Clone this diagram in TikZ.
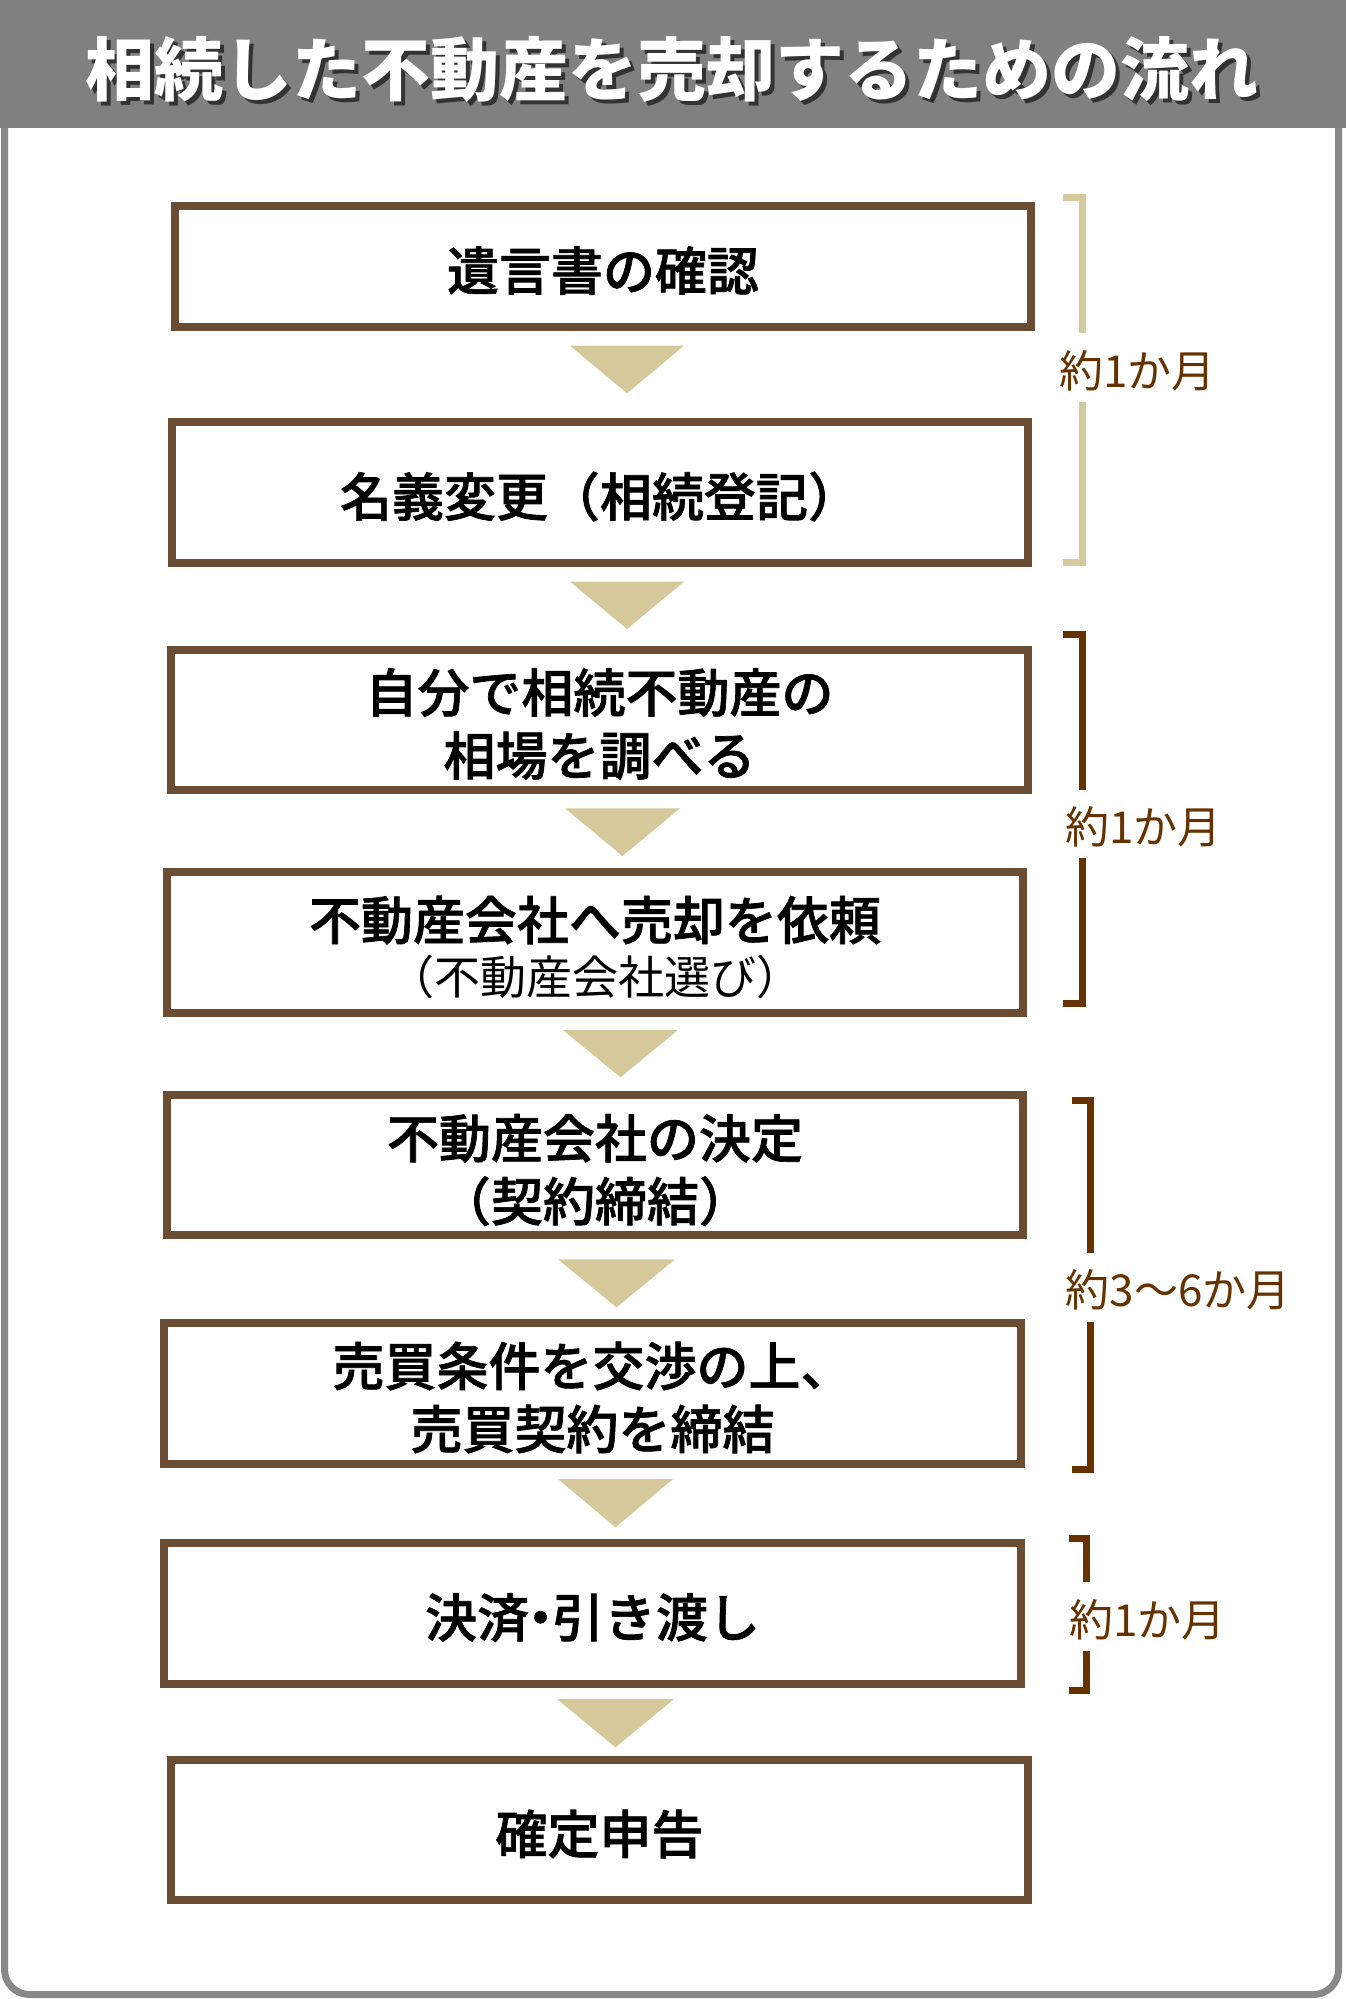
\documentclass[tikz,border=0pt]{standalone}
\usepackage{fontspec}
\newfontfamily\jp{Noto Sans CJK JP}
\newfontfamily\jpmed[FakeBold=1.3]{Noto Sans CJK JP Medium}
\definecolor{boxbrown}{RGB}{107,77,51}
\definecolor{tricol}{RGB}{213,201,155}
\definecolor{brk}{RGB}{102,51,0}
\definecolor{brklight}{RGB}{214,203,156}
\definecolor{framegray}{RGB}{136,136,136}
\definecolor{titlegray}{RGB}{128,128,128}
\begin{document}
\begin{tikzpicture}[x=1pt,y=-1pt,
  stepbox/.style={draw=boxbrown, line width=8pt, fill=white, inner sep=0pt, minimum width=857pt},
  steptext/.style={inner sep=0pt, align=center, text=black, font=\jpmed\fontsize{52}{63}\selectfont},
  arrowtri/.style={fill=tricol, draw=none},
  bracketline/.style={line width=7pt},
  periodlabel/.style={inner sep=0pt, text=brk, font=\jp\fontsize{44}{44}\selectfont},
  titletext/.style={inner sep=0pt, font=\jp\bfseries\fontsize{69}{69}\selectfont}]
\useasboundingbox (0,0) rectangle (1346,1999);
\fill[white] (0,0) rectangle (1346,1999);
% outer frame
\draw[framegray, line width=7pt, rounded corners=25pt] (4.5,60) rectangle (1338.5,1994.5);
% title bar
\fill[titlegray] (0,0) rectangle (1346,128);
\node[titletext, text=black, opacity=0.6] (titleshadow) at (675.5,73.5) {相続した不動産を売却するための流れ};
\node[titletext, text=white] (title) at (672,70) {相続した不動産を売却するための流れ};
% boxes
\node[stepbox, minimum width=856pt, minimum height=121pt] (b1) at (603,266.5) {};
\node[stepbox, minimum width=856pt, minimum height=141pt] (b2) at (600,492.5) {};
\node[stepbox, minimum width=857pt, minimum height=140pt] (b3) at (599.5,720) {};
\node[stepbox, minimum width=856pt, minimum height=141pt] (b4) at (595,942.5) {};
\node[stepbox, minimum width=856pt, minimum height=140pt] (b5) at (595,1165) {};
\node[stepbox, minimum width=857pt, minimum height=141pt] (b6) at (592.5,1393.5) {};
\node[stepbox, minimum width=857pt, minimum height=141pt] (b7) at (592.5,1613.5) {};
\node[stepbox, minimum width=857pt, minimum height=140pt] (b8) at (599.5,1830) {};
% texts
\node[steptext] (t1) at ([yshift=-4pt]b1.center) {遺言書の確認};
\node[steptext] (t2) at ([yshift=-4pt]b2.center) {名義変更（相続登記）};
\node[steptext] (t3) at ([yshift=-4pt]b3.center) {自分で相続不動産の\\相場を調べる};
\node[steptext] (t4) at ([yshift=-5pt]b4.center) {不動産会社へ売却を依頼\\[-8pt]{\jp\fontsize{46}{46}\selectfont （不動産会社選び）}};
\node[steptext] (t5) at ([yshift=-5pt]b5.center) {不動産会社の決定\\（契約締結）};
\node[steptext] (t6) at ([yshift=-4pt]b6.center) {売買条件を交渉の上、\\売買契約を締結};
\node[steptext] (t7) at ([yshift=-4pt]b7.center) {決済\kern-.28em・\kern-.28em 引き渡し};
\node[steptext] (t8) at ([yshift=-4pt]b8.center) {確定申告};
% triangles
\fill[arrowtri] (570,345.7) -- (684,345.7) -- (627,393.3) -- cycle;
\fill[arrowtri] (570,581.7) -- (684,581.7) -- (627,629) -- cycle;
\fill[arrowtri] (565,808.3) -- (680,808.3) -- (622.5,856) -- cycle;
\fill[arrowtri] (563,1030) -- (678,1030) -- (620.5,1077.3) -- cycle;
\fill[arrowtri] (558,1259.3) -- (675,1259.3) -- (616.5,1307.3) -- cycle;
\fill[arrowtri] (558,1479) -- (673,1479) -- (615.5,1527.3) -- cycle;
\fill[arrowtri] (557,1699) -- (674,1699) -- (615.5,1747.3) -- cycle;
% period labels
\node[periodlabel] (l1) at (1137.5,370.4) {約1か月};
\node[periodlabel] (l2) at (1143.5,827) {約1か月};
\node[periodlabel] (l3) at (1178.4,1290) {約3〜6か月};
\node[periodlabel] (l4) at (1147.2,1619.3) {約1か月};
% brackets
\draw[bracketline, brklight] (1063,197.8) -- (1082.5,197.8) -- (1082.5,333);
\draw[bracketline, brklight] (1082.5,402) -- (1082.5,562.5) -- (1063,562.5);
\draw[bracketline, brk] (1063,634.2) -- (1082.5,634.2) -- (1082.5,790);
\draw[bracketline, brk] (1082.5,858.3) -- (1082.5,1003.8) -- (1063,1003.8);
\draw[bracketline, brk] (1071.7,1100.2) -- (1090,1100.2) -- (1090,1252.7);
\draw[bracketline, brk] (1090,1321.7) -- (1090,1469.8) -- (1071.7,1469.8);
\draw[bracketline, brk] (1069,1538.5) -- (1086.7,1538.5) -- (1086.7,1581.7);
\draw[bracketline, brk] (1086.7,1650.7) -- (1086.7,1690.8) -- (1069,1690.8);
\end{tikzpicture}
\end{document}
